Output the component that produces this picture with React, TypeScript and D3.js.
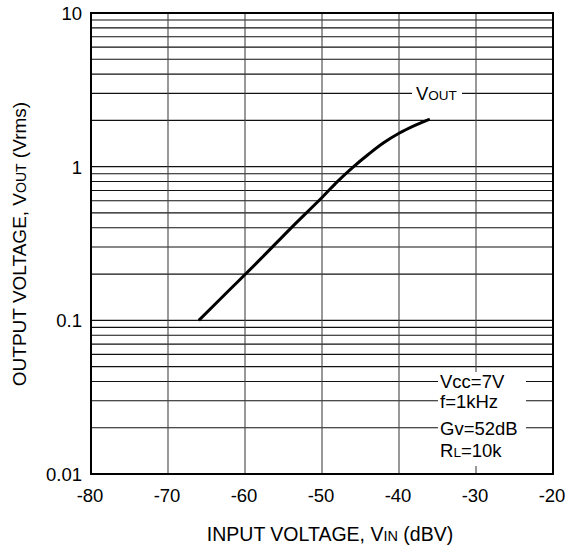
import React from "react";
import * as d3 from "d3";

const xTicks = [-80, -70, -60, -50, -40, -30, -20];
const yTicks = [0.01, 0.1, 1, 10];
const yTickLabels = ["0.01", "0.1", "1", "10"];
const vin = [-66, -62, -58, -54, -50, -48, -46, -44, -42, -40, -38, -36];
const vout = [0.1, 0.158, 0.25, 0.4, 0.63, 0.8, 0.99, 1.2, 1.43, 1.65, 1.85, 2.04];
const conditions = ["Vcc=7V", "f=1kHz", "Gv=52dB", "RL=10k"];
const conditionY = [0.04, 0.03, 0.02, 0.0144];

const W = 578, H = 552;
const L = 91, R = 553, T = 13, B = 474;
const FS = 18.5;
const SM = 13.5;

export default function App() {
  const x = d3.scaleLinear().domain([-80, -20]).range([L, R]);
  const y = d3.scaleLog().domain([0.01, 10]).range([B, T]);
  const minor: number[] = [];
  [0.01, 0.1, 1].forEach((d) => {
    for (let k = 2; k <= 9; k++) minor.push(d * k);
  });
  const line = d3
    .line<number>()
    .x((_, i) => x(vin[i]))
    .y((d) => y(d))
    .curve(d3.curveCatmullRom.alpha(0.5));
  const font = "'Liberation Sans', Arial, sans-serif";
  return (
    <svg width={W} height={H} style={{ position: "absolute", left: 0, top: 0 }} fontFamily={font}>
      <rect width={W} height={H} fill="#fff" />
      {minor.map((v) => (
        <line key={"h" + v} x1={L} x2={R} y1={y(v)} y2={y(v)} stroke="#111" strokeWidth={1.1} />
      ))}
      {yTicks.slice(1, 3).map((v) => (
        <line key={"hm" + v} x1={L} x2={R} y1={y(v)} y2={y(v)} stroke="#111" strokeWidth={1.1} />
      ))}
      {xTicks.slice(1, -1).map((v) => (
        <line key={"v" + v} x1={x(v)} x2={x(v)} y1={T} y2={B} stroke="#444" strokeWidth={1.1} />
      ))}
      {/* VOUT label */}
      <rect x={412} y={y(3) - 10} width={50} height={20} fill="#fff" />
      <text x={416} y={y(3) + 7} fontSize={FS} fill="#000">
        V<tspan fontSize={SM}>OUT</tspan>
      </text>
      {/* conditions box */}
      <rect x={438} y={372} width={88} height={94} fill="#fff" />
      {conditions.map((c, i) => (
        <text key={c} x={440} y={y(conditionY[i]) + 7} fontSize={FS} fill="#000">
          {i === 3 ? (
            <>
              R<tspan fontSize={SM}>L</tspan>=10k
            </>
          ) : (
            c
          )}
        </text>
      ))}
      <rect x={L} y={T} width={R - L} height={B - T} fill="none" stroke="#000" strokeWidth={2} />
      <path d={line(vout) || ""} fill="none" stroke="#000" strokeWidth={3} />
      {xTicks.map((v) => (
        <text key={"xt" + v} x={x(v) - 1} y={502} fontSize={FS} textAnchor="middle">
          {v}
        </text>
      ))}
      {yTicks.map((v, i) => (
        <text key={"yt" + v} x={82} y={y(v) + 7} fontSize={FS} textAnchor="end">
          {yTickLabels[i]}
        </text>
      ))}
      <text x={330} y={541} fontSize={19.5} textAnchor="middle">
        INPUT VOLTAGE, V<tspan fontSize={14.5}>IN</tspan> (dBV)
      </text>
      <text transform={`translate(26, 244) rotate(-90)`} fontSize={19} textAnchor="middle">
        OUTPUT VOLTAGE, V<tspan fontSize={14}>OUT</tspan> (Vrms)
      </text>
    </svg>
  );
}
